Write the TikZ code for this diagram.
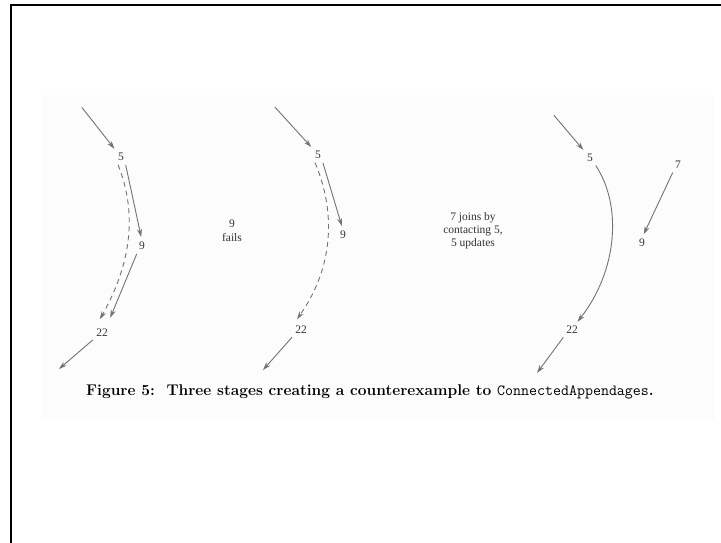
\documentclass[tikz,border=0pt]{standalone}
\usepackage{fontspec}
\newfontfamily\labelfont{Liberation Serif}
\usetikzlibrary{arrows.meta}
\begin{document}
\begin{tikzpicture}[x=1pt,y=-1pt,
  lbl/.style={font=\labelfont\fontsize{11.5}{13}\selectfont, inner sep=1pt, text=black!80},
  note/.style={lbl, align=center},
  edge/.style={draw=black!55, line width=0.9pt, shorten >=4pt, shorten <=3pt,
    -{Stealth[length=8pt,width=5pt,inset=2.5pt]}},
  dashedge/.style={edge, dashed, dash pattern=on 5pt off 4pt}]
  % page extent and the cropped page edge
  \useasboundingbox (0,0) rectangle (721,543);
  \fill[white] (0,0) rectangle (721,543);
  \fill[black!1] (42,95) rectangle (715,420);
  \draw[line width=2pt] (721,5) -- (10.5,5) -- (10.5,543);

  % ---- stage 1 ----
  \coordinate (a1) at (80,105);
  \node[lbl] (s5a) at (121,157) {5};
  \node[lbl] (s9a) at (142,246) {9};
  \node[lbl] (s22a) at (102,333) {22};
  \coordinate (z1) at (59,369);
  \draw[edge] (a1) -- (s5a.north west);
  \draw[edge] (s5a.south east) -- (s9a.north);
  \draw[edge, shorten >=11pt] (s9a.south west) -- ([xshift=4pt]s22a.north);
  \draw[dashedge, shorten >=10pt] (s5a.south west) .. controls (137,212) and (132,262) .. ([xshift=-7pt]s22a.north);
  \draw[edge, shorten >=0pt] (s22a.south west) -- (z1);
  \node[note] (n1) at (232,231) {9\\[1pt]fails};

  % ---- stage 2 ----
  \coordinate (a2) at (273,105);
  \node[lbl] (s5b) at (318,155) {5};
  \node[lbl] (s9b) at (343,235) {9};
  \node[lbl] (s22b) at (301,330) {22};
  \coordinate (z2) at (263,370);
  \draw[edge] (a2) -- (s5b.north west);
  \draw[edge] (s5b.south east) -- (s9b.north);
  \draw[dashedge, shorten >=7pt] (s5b.south west) .. controls (335,210) and (335,265) .. ([xshift=-8pt]s22b.north);
  \draw[edge, shorten >=0pt] (s22b.south west) -- (z2);
  \node[note] (n2) at (473,231) {7 joins by\\contacting 5,\\5 updates};

  % ---- stage 3 ----
  \coordinate (a3) at (552,113);
  \node[lbl] (s5c) at (590,158) {5};
  \node[lbl] (s22c) at (572,330) {22};
  \node[lbl] (s7c) at (678,165) {7};
  \node[lbl] (s9c) at (642,243) {9};
  \coordinate (z3) at (537,373);
  \draw[edge] (a3) -- (s5c.north west);
  \draw[edge] (s5c.south east) .. controls (622,205) and (618,270) .. ([xshift=3pt]s22c.north);
  \draw[edge, shorten >=0pt] (s22c.south west) -- (z3);
  \draw[edge] (s7c.south west) -- (s9c.north);

  % caption
  \node[inner sep=0pt, font=\fontsize{15.5}{18}\selectfont\bfseries] (cap) at (370,392)
    {Figure 5:\ \ Three stages creating a counterexample to \texttt{\mdseries ConnectedAppendages}.};
\end{tikzpicture}
\end{document}
